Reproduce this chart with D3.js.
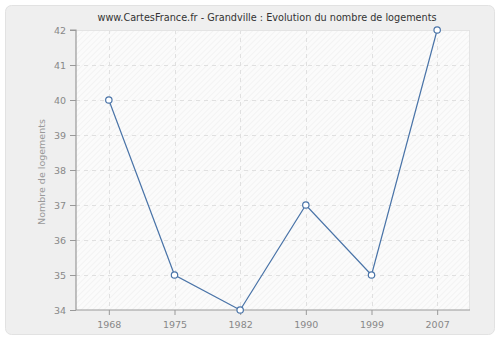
<!DOCTYPE html>
<html>
<head>
<meta charset="utf-8">
<script src="https://cdn.jsdelivr.net/npm/d3@7"></script>
<style>
  body { margin: 0; background: #fff; }
  text { font-family: "DejaVu Sans", Verdana, sans-serif; }
</style>
</head>
<body>
<div id="chart"></div>
<script>
// values
const years = ["1968", "1975", "1982", "1990", "1999", "2007"];
const logements = [40, 35, 34, 37, 35, 42];
const yTicks = [34, 35, 36, 37, 38, 39, 40, 41, 42];

const width = 500, height = 340;
const margin = {top: 30, right: 30, bottom: 30, left: 76};

let svg = d3.select("#chart").append("svg")
    .attr("width", width)
    .attr("height", height);

// hatch pattern for the plot background
let defs = svg.append("defs");
let pat = defs.append("pattern")
    .attr("id", "hatch")
    .attr("patternUnits", "userSpaceOnUse")
    .attr("width", 4).attr("height", 4)
    .attr("patternTransform", "rotate(45)");
pat.append("rect").attr("width", 4).attr("height", 4).attr("fill", "#fbfbfb");
pat.append("line").attr("x1", 0).attr("y1", 0).attr("x2", 0).attr("y2", 4)
    .attr("stroke", "#eeeeee").attr("stroke-width", 1.2);

// outer panel
svg.append("rect")
    .attr("x", 5.5).attr("y", 5.5)
    .attr("width", width - 11).attr("height", height - 11)
    .attr("rx", 6)
    .attr("fill", "#efefef")
    .attr("stroke", "#e2e2e2");

let x = d3.scalePoint()
    .domain(years)
    .range([margin.left, width - margin.right])
    .padding(0.5);

let y = d3.scaleLinear()
    .domain([34, 42])
    .range([height - margin.bottom, margin.top]);

svg.append("rect")
    .attr("x", margin.left).attr("y", margin.top)
    .attr("width", width - margin.left - margin.right)
    .attr("height", height - margin.top - margin.bottom)
    .attr("fill", "url(#hatch)");

// grid
svg.append("g").selectAll("line").data(yTicks.slice(1))
    .join("line")
    .attr("x1", margin.left).attr("x2", width - margin.right)
    .attr("y1", d => y(d) + 0.5).attr("y2", d => y(d) + 0.5)
    .attr("stroke", "#e0e0e0").attr("stroke-dasharray", "4,4");

svg.append("g").selectAll("line").data(years)
    .join("line")
    .attr("x1", d => Math.round(x(d)) + 0.5).attr("x2", d => Math.round(x(d)) + 0.5)
    .attr("y1", margin.top).attr("y2", height - margin.bottom)
    .attr("stroke", "#e0e0e0").attr("stroke-dasharray", "4,4");

// plot frame (right/top light)
svg.append("path")
    .attr("d", `M${margin.left},${margin.top + 0.5}H${width - margin.right - 0.5}V${height - margin.bottom}`)
    .attr("fill", "none").attr("stroke", "#e4e4e4");

// axes
let yAxis = svg.append("g")
    .attr("transform", `translate(${margin.left},0)`)
    .call(d3.axisLeft(y).tickValues(yTicks).tickSize(6).tickPadding(4).tickFormat(d3.format("d")));
let xAxis = svg.append("g")
    .attr("transform", `translate(0,${height - margin.bottom})`)
    .call(d3.axisBottom(x).tickSize(5).tickPadding(6));

[yAxis, xAxis].forEach(ax => {
    ax.select(".domain").attr("stroke", "#999").attr("stroke-width", 1.2);
    ax.selectAll(".tick line").attr("stroke", "#999");
    ax.selectAll(".tick text").attr("fill", "#888").attr("font-size", 9.5)
        .attr("font-family", "DejaVu Sans, sans-serif");
});
// keep the frame from extending past the axis ends
xAxis.select(".domain").attr("d", `M${margin.left},0H${width - margin.right}`);
yAxis.select(".domain").attr("d", `M-6,${margin.top}H0V${height - margin.bottom}`);

// line + points
let line = d3.line()
    .x((d, i) => x(years[i]))
    .y(d => y(d));

svg.append("path")
    .datum(logements)
    .attr("d", line)
    .attr("fill", "none")
    .attr("stroke", "#4a74a8")
    .attr("stroke-width", 1.2);

svg.append("g").selectAll("circle").data(logements)
    .join("circle")
    .attr("cx", (d, i) => x(years[i]))
    .attr("cy", d => y(d))
    .attr("r", 3.2)
    .attr("fill", "#fff")
    .attr("stroke", "#4a74a8")
    .attr("stroke-width", 1.2);

// title
svg.append("text")
    .attr("x", 267).attr("y", 21)
    .attr("text-anchor", "middle")
    .attr("font-size", 9.7)
    .attr("fill", "#333")
    .text("www.CartesFrance.fr - Grandville : Evolution du nombre de logements");

// y label
svg.append("text")
    .attr("transform", `translate(45,${(margin.top + height - margin.bottom) / 2 + 2}) rotate(-90)`)
    .attr("text-anchor", "middle")
    .attr("font-size", 9.5)
    .attr("fill", "#999")
    .text("Nombre de logements");
</script>
</body>
</html>
